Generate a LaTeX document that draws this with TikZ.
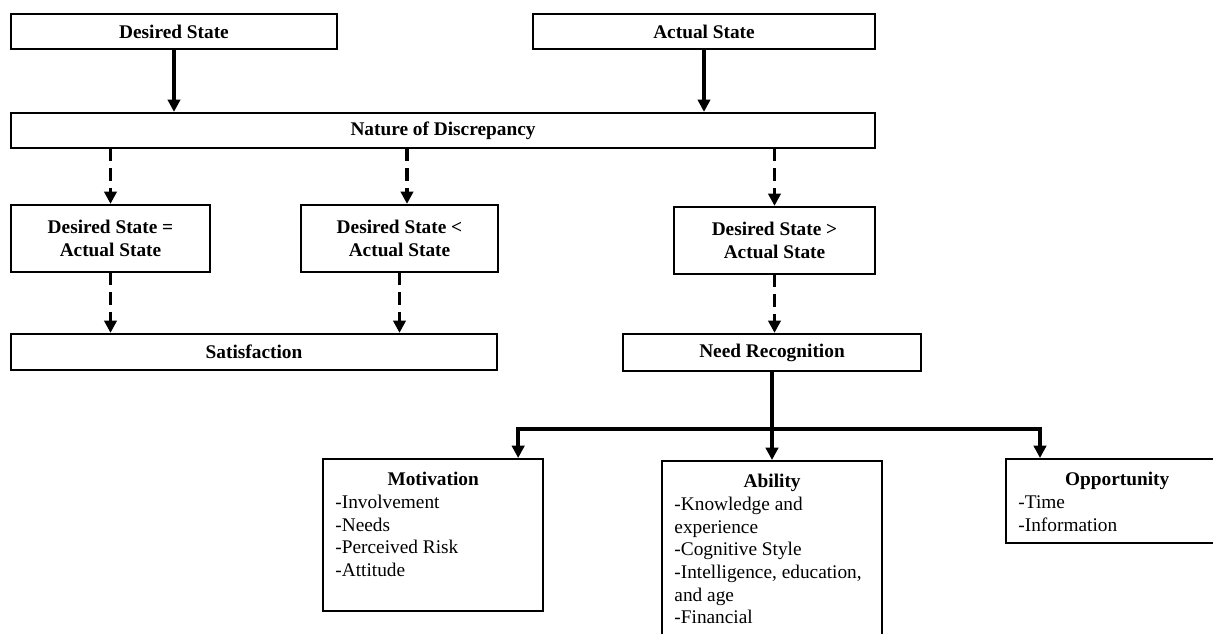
\documentclass[tikz,border=0pt]{standalone}
\usepackage{fontspec}
\setmainfont{Liberation Serif}
\usetikzlibrary{arrows.meta}

\begin{document}
\begin{tikzpicture}[
    x=0.02cm, y=-0.02cm,
    font=\fontsize{11}{12.9}\selectfont,
    box/.style     = {draw, line width=1.3pt, inner sep=0pt, minimum height=0.7cm,
                      font=\fontsize{11}{12.9}\selectfont\bfseries, align=center},
    infobox/.style = {draw, line width=1.3pt, anchor=north west,
                      inner xsep=7pt, inner ysep=7.5pt},
    arr/.style     = {line width=2pt, -{Triangle[length=7pt,width=7pt]}},
    darr/.style    = {arr, dash pattern=on 7pt off 4pt}
  ]

    \useasboundingbox[fill=white] (0,0) rectangle (1213,633);
    \clip (0,0) rectangle (1213,633);

    %% ---- states and discrepancy ----
    \node[box, minimum width=6.52cm] (ds) at (174,31.5) {Desired State};
    \node[box, minimum width=6.84cm] (as) at (704,31.5) {Actual State};
    \node[box, minimum width=17.28cm] (nd) at (443,130.5) {Nature of Discrepancy};

    \draw[arr] (ds.south) -- (ds.south |- nd.north);
    \draw[arr] (as.south) -- (as.south |- nd.north);

    %% ---- three comparisons ----
    \node[box, minimum width=3.98cm, minimum height=1.34cm] (eq) at (110.5,238.5)
      {Desired State =\\ Actual State};
    \node[box, minimum width=3.94cm, minimum height=1.34cm] (lt) at (399.5,238.5)
      {Desired State <\\ Actual State};
    \node[box, minimum width=4.02cm, minimum height=1.34cm] (gt) at (774.5,240.5)
      {Desired State >\\ Actual State};

    \draw[darr] (eq.north |- nd.south) -- (eq.north);
    \draw[darr] ([xshift=0.15cm]lt.north |- nd.south) -- ([xshift=0.15cm]lt.north);
    \draw[darr] (gt.north |- nd.south) -- (gt.north);

    %% ---- outcomes ----
    \node[box, minimum width=9.72cm, minimum height=0.72cm] (sat) at (254,352) {Satisfaction};
    \node[box, minimum width=5.96cm, minimum height=0.74cm] (nr) at (772,352.5) {Need Recognition};

    \draw[darr] (eq.south) -- (eq.south |- sat.north);
    \draw[darr] (lt.south) -- (lt.south |- sat.north);
    \draw[darr] (gt.south) -- (gt.south |- nr.north);

    %% ---- factors ----
    \node[infobox] (mot) at (322,458)
      {\parbox[t][2.51cm][t]{3.91cm}{\centering\textbf{Motivation}\par\raggedright
        -Involvement\\ -Needs\\ -Perceived Risk\\ -Attitude}};
    \node[infobox] (abl) at (661,460)
      {\parbox[t][3.6cm][t]{3.91cm}{\centering\textbf{Ability}\par\raggedright
        -Knowledge and\\ experience\\ -Cognitive Style\\
        -Intelligence, education,\\ and age\\ -Financial}};
    \node[infobox] (opp) at (1005,458)
      {\parbox[t][1.15cm][t]{3.95cm}{\centering\textbf{Opportunity}\par\raggedright
        -Time\\ -Information}};

    \coordinate (fork) at (772,429);
    \draw[line width=2pt] (nr.south) -- (fork);
    \draw[arr] (fork) -| ([xshift=1.7cm]mot.north);
    \draw[arr] (fork) -- (fork |- abl.north);
    \draw[arr] (fork) -| ([xshift=0.7cm]opp.north west);
  \end{tikzpicture}
\end{document}
